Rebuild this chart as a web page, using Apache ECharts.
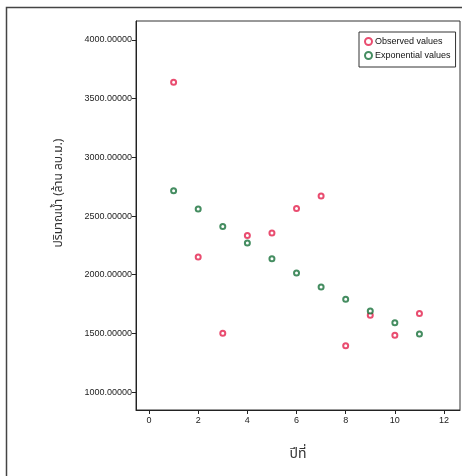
<!DOCTYPE html>
<html><head><meta charset="utf-8">
<script src="https://cdn.jsdelivr.net/npm/echarts@6/dist/echarts.min.js"></script>
<style>html,body{margin:0;padding:0;background:#fff;}#c{width:462px;height:476px;}</style>
</head><body><div id="c"></div>
<script>
const years = [1,2,3,4,5,6,7,8,9,10,11];
const observed = [3640,2150,1500,2335,2355,2565,2670,1395,1655,1485,1670];
const exponential = [2715,2560,2410,2270,2135,2015,1895,1790,1690,1590,1495];
const xTicks = [0,2,4,6,8,10,12];
const yTicks = [1000,1500,2000,2500,3000,3500,4000];
const seriesNames = ['Observed values','Exponential values'];
const xName = 'ปีที่';
const yName = 'ปริมาณน้ำ (ล้าน ลบ.ม.)';

const font = 'Liberation Sans, Arial, sans-serif';
const thaiFont = '"Noto Sans Thai", "Noto Sans", "DejaVu Sans", sans-serif';
const chart = echarts.init(document.getElementById('c'));
chart.setOption({
  backgroundColor:'#fff',
  animation:false,
  grid:{left:136,top:21,right:2,bottom:66,show:true,borderColor:'#333',borderWidth:1,backgroundColor:'#fff'},
  legend:{
    orient:'vertical', left:359, top:32, data:seriesNames,
    backgroundColor:'#fff', borderColor:'#333', borderWidth:1, padding:[5,5,7,5],
    itemGap:5, itemWidth:7, itemHeight:7,
    itemStyle:{borderWidth:2.5},
    textStyle:{fontFamily:font,fontSize:9,color:'#111',padding:[0,0,0,-2]}
  },
  xAxis:{
    type:'value', min:-0.53, max:12.65,
    name:xName, nameLocation:'middle', nameGap:38,
    nameTextStyle:{fontFamily:thaiFont,fontSize:14,color:'#333'},
    axisLine:{show:true,onZero:false,lineStyle:{color:'#222',width:1}},
    axisTick:{show:true,length:4,customValues:xTicks,lineStyle:{color:'#222'}},
    axisLabel:{customValues:xTicks,fontFamily:font,fontSize:9,color:'#222',margin:6},
    splitLine:{show:false}
  },
  yAxis:{
    type:'value', min:847, max:4162,
    axisLine:{show:true,onZero:false,lineStyle:{color:'#222',width:1}},
    axisTick:{show:true,length:4,customValues:yTicks,lineStyle:{color:'#222'}},
    axisLabel:{customValues:yTicks,fontFamily:font,fontSize:9,color:'#222',margin:4,
      formatter:v=>v.toFixed(5)},
    splitLine:{show:false}
  },
  graphic:[
    {type:'rect',shape:{x:6.5,y:7.5,width:520,height:520},style:{fill:'none',stroke:'#444',lineWidth:1.5},silent:true,z:-1},
    {type:'text',x:60,y:193,rotation:Math.PI/2,style:{text:yName,font:'12px '+thaiFont,fill:'#333',align:'center',verticalAlign:'middle'}}
  ],
  series:[
    {name:seriesNames[0],type:'scatter',symbol:'emptyCircle',symbolSize:5,
     itemStyle:{color:'#e3204c',borderColor:'#e3204c',borderWidth:2.5},
     data:years.map((x,i)=>[x,observed[i]]),z:3},
    {name:seriesNames[1],type:'scatter',symbol:'emptyCircle',symbolSize:5,
     itemStyle:{color:'#17703a',borderColor:'#17703a',borderWidth:2.5},
     data:years.map((x,i)=>[x,exponential[i]]),z:4}
  ]
});
</script></body></html>
